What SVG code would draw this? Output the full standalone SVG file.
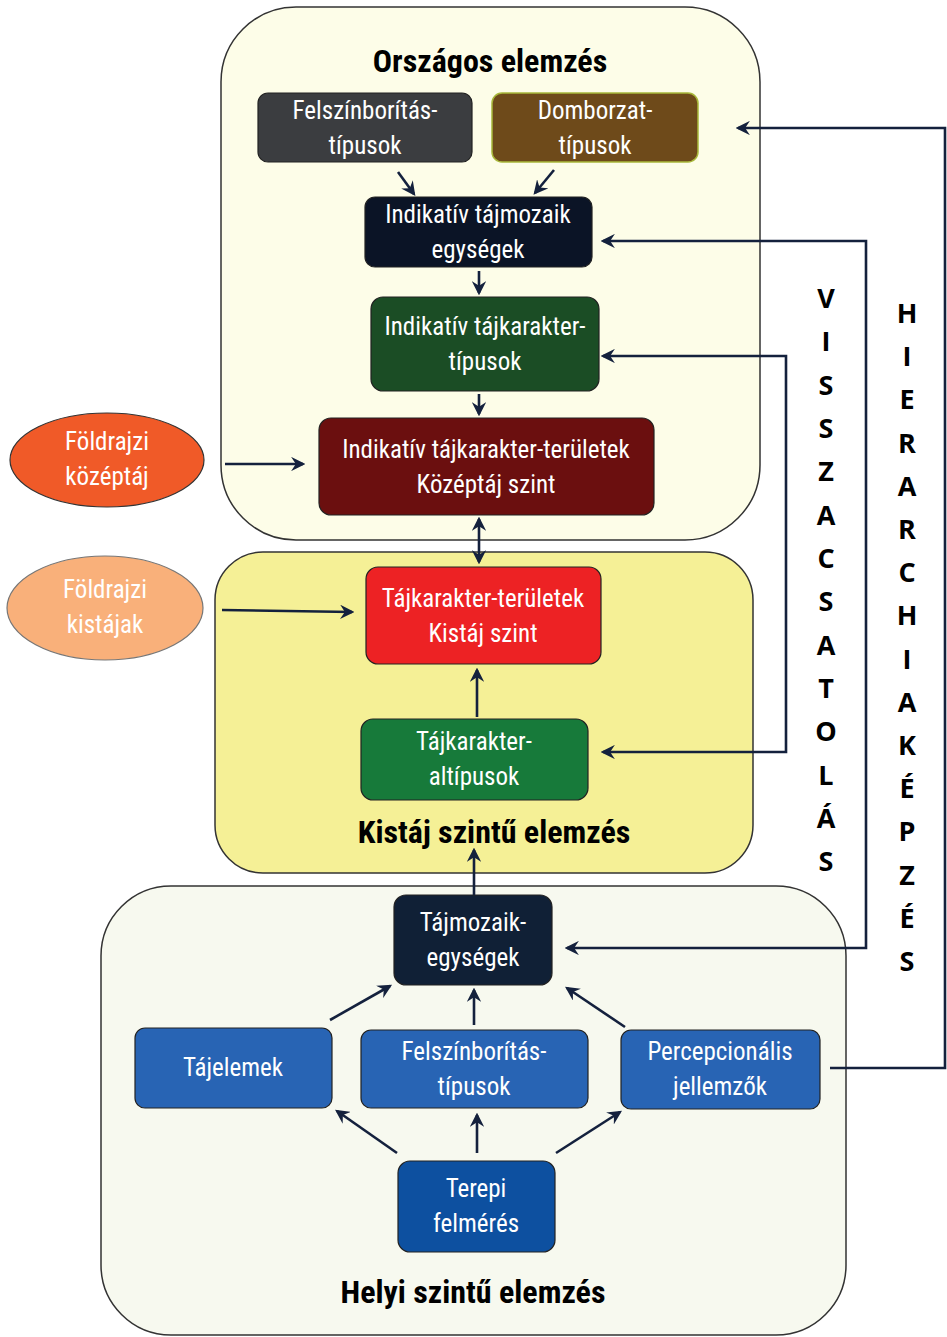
<svg xmlns="http://www.w3.org/2000/svg" width="947" height="1337" viewBox="0 0 947 1337">
<defs>
<marker id="ah" viewBox="0 0 12 12" refX="10" refY="6" markerWidth="5.5" markerHeight="5.5" markerUnits="strokeWidth" orient="auto-start-reverse">
<path d="M0,0 L12,6 L0,12 L4,6 z" fill="#14213d"/>
</marker>
<style>
.cont{stroke:#333;stroke-width:1.5}
.box{stroke:#222;stroke-width:1.2}
.t{font-family:"Liberation Sans Narrow","Roboto Condensed",Lato,sans-serif;font-size:25px;fill:#fff;text-anchor:middle}
.title{font-family:"Liberation Sans Narrow","Roboto Condensed",Lato,sans-serif;font-size:32px;font-weight:bold;fill:#000;text-anchor:middle}
.vt{font-family:"Open Sans","Liberation Sans",sans-serif;font-size:27px;font-weight:bold;fill:#000;text-anchor:middle}
.c{fill:none;stroke:#14213d;stroke-width:2.6;marker-end:url(#ah)}
.c2{fill:none;stroke:#14213d;stroke-width:2.6;marker-start:url(#ah);marker-end:url(#ah)}
</style>
</defs>
<rect width="947" height="1337" fill="#ffffff"/>

<g id="orszagos">
<rect class="cont" x="221" y="7" width="539" height="533" rx="75" fill="#fdfde8"/>
<text class="title" x="490" y="72">Országos elemzés</text>
</g>
<g id="kistaj">
<rect class="cont" x="215" y="552" width="538" height="321" rx="48" fill="#f5f096"/>
<text class="title" x="494" y="843">Kistáj szintű elemzés</text>
</g>
<g id="helyi">
<rect class="cont" x="101" y="886" width="745" height="449" rx="70" fill="#f7f9ef"/>
<text class="title" x="473" y="1303">Helyi szintű elemzés</text>
</g>

<g id="n-felszin-top">
<rect class="box" x="258" y="93" width="214" height="69" rx="10" fill="#3b3d40"/>
<text class="t" x="365" y="119">Felszínborítás-</text>
<text class="t" x="365" y="154">típusok</text>
</g>
<g id="n-domborzat">
<rect x="492" y="93" width="206" height="69" rx="10" fill="#6e4a1a" stroke="#a8b83a" stroke-width="1.5"/>
<text class="t" x="595" y="119">Domborzat-</text>
<text class="t" x="595" y="154">típusok</text>
</g>
<g id="n-ind-tajmozaik">
<rect class="box" x="365" y="197" width="227" height="70" rx="10" fill="#0b1426"/>
<text class="t" x="478" y="223">Indikatív tájmozaik</text>
<text class="t" x="478" y="258">egységek</text>
</g>
<g id="n-ind-tajkar-tip">
<rect class="box" x="371" y="297" width="228" height="94" rx="12" fill="#1b4d25"/>
<text class="t" x="485" y="335">Indikatív tájkarakter-</text>
<text class="t" x="485" y="370">típusok</text>
</g>
<g id="n-ind-tajkar-ter">
<rect class="box" x="319" y="418" width="335" height="97" rx="12" fill="#6b0f0f"/>
<text class="t" x="486" y="458">Indikatív tájkarakter-területek</text>
<text class="t" x="486" y="493">Középtáj szint</text>
</g>
<g id="n-foldr-kozeptaj">
<ellipse cx="107" cy="460" rx="97" ry="47" fill="#f05a28" stroke="#333" stroke-width="1.2"/>
<text class="t" x="107" y="450">Földrajzi</text>
<text class="t" x="107" y="485">középtáj</text>
</g>
<g id="n-tajkar-ter">
<rect class="box" x="366" y="567" width="235" height="97" rx="12" fill="#ed2224"/>
<text class="t" x="483" y="607">Tájkarakter-területek</text>
<text class="t" x="483" y="642">Kistáj szint</text>
</g>
<g id="n-foldr-kistajak">
<ellipse cx="105" cy="608" rx="98" ry="52" fill="#f9b07a" stroke="#777" stroke-width="1.2"/>
<text class="t" x="105" y="598">Földrajzi</text>
<text class="t" x="105" y="633">kistájak</text>
</g>
<g id="n-tajkar-alt">
<rect class="box" x="361" y="719" width="227" height="81" rx="12" fill="#177a3a"/>
<text class="t" x="474" y="750">Tájkarakter-</text>
<text class="t" x="474" y="785">altípusok</text>
</g>
<g id="n-tajmozaik-egys">
<rect class="box" x="394" y="895" width="158" height="90" rx="12" fill="#102036"/>
<text class="t" x="473" y="931">Tájmozaik-</text>
<text class="t" x="473" y="966">egységek</text>
</g>
<g id="n-tajelemek">
<rect class="box" x="135" y="1028" width="197" height="80" rx="10" fill="#2864b4"/>
<text class="t" x="233" y="1076">Tájelemek</text>
</g>
<g id="n-felszin-bot">
<rect class="box" x="361" y="1030" width="227" height="78" rx="10" fill="#2864b4"/>
<text class="t" x="474" y="1060">Felszínborítás-</text>
<text class="t" x="474" y="1095">típusok</text>
</g>
<g id="n-percep">
<rect class="box" x="621" y="1030" width="199" height="79" rx="10" fill="#2864b4"/>
<text class="t" x="720" y="1060">Percepcionális</text>
<text class="t" x="720" y="1095">jellemzők</text>
</g>
<g id="n-terepi">
<rect class="box" x="398" y="1161" width="157" height="91" rx="12" fill="#0d50a0"/>
<text class="t" x="476" y="1197">Terepi</text>
<text class="t" x="476" y="1232">felmérés</text>
</g>

<g id="connectors">
<path class="c" d="M398,172 L414,194"/>
<path class="c" d="M554,170 L535,193"/>
<path class="c" d="M479,271 L479,293"/>
<path class="c" d="M479,394 L479,414"/>
<path class="c" d="M225,464 L303,464"/>
<path class="c2" d="M479,519 L479,562"/>
<path class="c" d="M222,610 L352,612"/>
<path class="c" d="M477,717 L477,670"/>
<path class="c" d="M474,895 L474,850"/>
<path class="c" d="M330,1020 L390,986"/>
<path class="c" d="M474,1025 L474,990"/>
<path class="c" d="M625,1027 L567,988"/>
<path class="c" d="M397,1153 L337,1111"/>
<path class="c" d="M477,1153 L477,1115"/>
<path class="c" d="M556,1153 L620,1112"/>
<path class="c2" d="M567,948 L866,948 L866,241 L603,241"/>
<path class="c2" d="M603,752 L786,752 L786,356 L603,356"/>
<path class="c" d="M830,1068 L945,1068 L945,128 L738,128"/>
</g>

<g id="label-visszacsatolas">
<text class="vt">
<tspan x="826" y="308">V</tspan><tspan x="826" y="351">I</tspan><tspan x="826" y="395">S</tspan><tspan x="826" y="438">S</tspan><tspan x="826" y="481">Z</tspan><tspan x="826" y="525">A</tspan><tspan x="826" y="568">C</tspan><tspan x="826" y="611">S</tspan><tspan x="826" y="655">A</tspan><tspan x="826" y="698">T</tspan><tspan x="826" y="741">O</tspan><tspan x="826" y="785">L</tspan><tspan x="826" y="828">Á</tspan><tspan x="826" y="871">S</tspan>
</text>
</g>
<g id="label-hierarchiakepzes">
<text class="vt">
<tspan x="907" y="323">H</tspan><tspan x="907" y="366">I</tspan><tspan x="907" y="409">E</tspan><tspan x="907" y="453">R</tspan><tspan x="907" y="496">A</tspan><tspan x="907" y="539">R</tspan><tspan x="907" y="582">C</tspan><tspan x="907" y="625">H</tspan><tspan x="907" y="669">I</tspan><tspan x="907" y="712">A</tspan><tspan x="907" y="755">K</tspan><tspan x="907" y="798">É</tspan><tspan x="907" y="841">P</tspan><tspan x="907" y="885">Z</tspan><tspan x="907" y="928">É</tspan><tspan x="907" y="971">S</tspan>
</text>
</g>
</svg>
